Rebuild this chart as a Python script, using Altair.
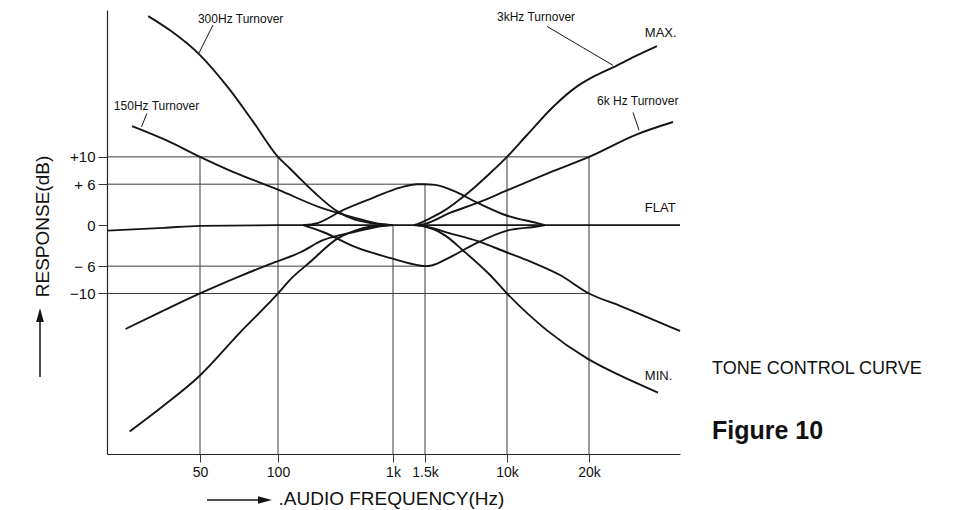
import altair as alt
import pandas as pd

FONT = "Liberation Sans"
INK = "#151515"
GRID = "#3a3a3a"

# ---------------- axis definitions (schematic frequency axis) ----------------
x_breaks = [20, 50, 100, 1000, 1500, 10000, 20000, 40000]      # Hz
x_break_pos = [0, 93, 171, 286, 318, 400, 482, 573]            # scale range
tick_values = [50, 100, 1000, 1500, 10000, 20000]
tick_labels = ["50", "100", "1k", "1.5k", "10k", "20k"]
y_tick_values = [10, 6, 0, -6, -10]
y_tick_labels = ["+10", "+ 6", "0", "\u2212 6", "\u221210"]
y_domain = [-33.5, 31.5]

# ---------------- curve data (Hz, dB) ----------------
bass300_boost_f = [30, 38, 50, 64, 80, 100, 127, 158, 210, 326, 467, 650, 1000]
bass300_boost_db = [30.6, 28.3, 24.9, 20.2, 15.2, 10.0, 8.3, 6.7, 4.7, 2.05, 0.8, 0.3, 0.0]

bass150_boost_f = [25.6, 36, 50, 67, 100, 232, 486, 700, 1000]
bass150_boost_db = [14.5, 12.4, 10.0, 7.8, 5.2, 2.6, 1.0, 0.3, 0.0]

bass150_cut_f = [24, 34, 50, 71, 93, 155, 246, 486, 700, 1000]
bass150_cut_db = [-15.2, -12.7, -10.0, -7.5, -5.7, -4.0, -2.2, -0.9, -0.3, 0.0]

bass300_cut_f = [25, 35, 50, 71, 100, 127, 190, 326, 467, 650, 1000]
bass300_cut_db = [-30.2, -26.4, -22.0, -15.8, -10.0, -8.0, -5.4, -2.0, -0.8, -0.2, 0.0]

mid_boost_f = [165, 220, 367, 670, 1093, 1355, 1500, 1900, 3144, 4995, 9118, 12890, 13790]
mid_boost_db = [0.0, 0.3, 2.2, 4.0, 5.5, 6.0, 6.0, 5.9, 4.8, 3.3, 1.6, 0.3, 0.0]

mid_cut_f = [165, 246, 486, 942, 1400, 1500, 1750, 2670, 4995, 10000, 12890, 13790]
mid_cut_db = [0.0, -1.0, -3.3, -4.8, -5.9, -6.0, -5.9, -4.7, -2.6, -0.8, -0.2, 0.0]

treble3k_boost_f = [1300, 1408, 1684, 2383, 3372, 4770, 6750, 10000, 11840, 14750,
                    17770, 20610, 24010, 28380, 33570]
treble3k_boost_db = [0.0, 0.3, 1.0, 2.2, 3.8, 5.6, 7.6, 10.0, 13.2, 17.3,
                     20.1, 21.7, 23.1, 24.7, 26.2]

treble6k_boost_f = [1300, 1500, 2670, 5357, 10000, 14750, 20000, 28820, 37920]
treble6k_boost_db = [0.0, 0.2, 1.8, 3.4, 5.1, 7.9, 10.0, 13.3, 15.1]

treble6k_cut_f = [1300, 1500, 2670, 4995, 10000, 12140, 15650, 20000, 25320, 40000]
treble6k_cut_db = [0.0, -0.2, -1.2, -2.3, -4.0, -5.3, -7.3, -10.0, -11.8, -15.5]

treble3k_cut_f = [1300, 1500, 2383, 3613, 6750, 10000, 14020, 19670, 25320, 33830]
treble3k_cut_db = [0.0, -0.2, -1.5, -3.7, -7.3, -10.0, -15.4, -19.5, -22.0, -24.5]

flat_f = [20, 35, 50, 100, 40000]
flat_db = [-0.8, -0.4, -0.1, 0.0, 0.0]

# ---------------- reference (grid) lines ----------------
hgrid_db = [10, 6, -6, -10]
hgrid_f1 = [20, 20, 20, 20]
hgrid_f2 = [20000, 1500, 1500, 20000]

vgrid_f = [50, 100, 1000, 1500, 10000, 20000]
vgrid_db_top = [10, 10, 0, 6, 10, 10]

# ---------------- annotations ----------------
small_text = ["300Hz Turnover", "150Hz Turnover", "3kHz Turnover", "6k Hz Turnover"]
small_f = [49, 21.4, 7940, 21260]
small_db = [30.2, 17.4, 30.5, 18.2]

curve_text = ["MAX.", "FLAT", "MIN."]
curve_text_f = [30600, 30600, 30600]
curve_text_db = [28.1, 2.5, -22.1]

ptr_f1 = [56.1, 29.6, 14020, 27970]
ptr_db1 = [29.3, 16.35, 29.1, 16.5]
ptr_f2 = [49.5, 28.1, 24010, 29270]
ptr_db2 = [25.2, 14.4, 23.4, 13.9]


def label_expr(values, labels):
    expr = "''"
    for v, l in reversed(list(zip(values, labels))):
        expr = f"datum.value == {v} ? '{l}' : ({expr})"
    return expr


xs = alt.Scale(type="log", domain=x_breaks, range=x_break_pos, nice=False)
ys = alt.Scale(domain=y_domain, nice=False, zero=False)

curves = {
    "300Hz boost": (bass300_boost_f, bass300_boost_db),
    "150Hz boost": (bass150_boost_f, bass150_boost_db),
    "150Hz cut": (bass150_cut_f, bass150_cut_db),
    "300Hz cut": (bass300_cut_f, bass300_cut_db),
    "mid boost": (mid_boost_f, mid_boost_db),
    "mid cut": (mid_cut_f, mid_cut_db),
    "3kHz boost": (treble3k_boost_f, treble3k_boost_db),
    "6kHz boost": (treble6k_boost_f, treble6k_boost_db),
    "6kHz cut": (treble6k_cut_f, treble6k_cut_db),
    "3kHz cut": (treble3k_cut_f, treble3k_cut_db),
    "flat": (flat_f, flat_db),
}
rows = []
for name, (fs, dbs) in curves.items():
    for i, (f, d) in enumerate(zip(fs, dbs)):
        rows.append({"curve": name, "f": f, "db": d, "i": i})
curve_df = pd.DataFrame(rows)

hgrid_df = pd.DataFrame({"db": hgrid_db, "f1": hgrid_f1, "f2": hgrid_f2})
vgrid_df = pd.DataFrame({"f": vgrid_f, "db": vgrid_db_top,
                         "bottom": [y_domain[0]] * len(vgrid_f)})
small_df = pd.DataFrame({"t": small_text, "f": small_f, "db": small_db})
ctext_df = pd.DataFrame({"t": curve_text, "f": curve_text_f, "db": curve_text_db})
ptr_df = pd.DataFrame({"f": ptr_f1, "db": ptr_db1, "f2": ptr_f2, "db2": ptr_db2})

x_axis = alt.Axis(
    values=tick_values, labelExpr=label_expr(tick_values, tick_labels),
    grid=False, domainColor="#222", domainWidth=1.2, tickColor=GRID, tickWidth=1,
    tickSize=8, labelFont=FONT, labelFontSize=14, labelColor="#111", labelPadding=3,
    labelFlush=False, labelOverlap=False,
    title=".AUDIO FREQUENCY(Hz)", titleFont=FONT, titleFontSize=19,
    titleFontWeight="normal", titleColor="#111", titleX=171, titleY=50,
    titleAlign="left", titleBaseline="alphabetic",
)
y_axis = alt.Axis(
    values=y_tick_values, labelExpr=label_expr(y_tick_values, y_tick_labels),
    grid=False, domainColor="#222", domainWidth=1.2, tickColor=GRID, tickWidth=1,
    tickSize=9, labelFont=FONT, labelFontSize=15, labelColor="#111", labelPadding=3,
    labelFlush=False, labelOverlap=False,
    title="RESPONSE(dB)", titleFont=FONT, titleFontSize=19, titleFontWeight="normal",
    titleColor="#111", titleX=-65, titleY=216, titleAngle=270,
    titleAlign="center", titleBaseline="middle",
)

X = alt.X("f:Q", scale=xs, axis=x_axis)
Y = alt.Y("db:Q", scale=ys, axis=y_axis)

grid_h = alt.Chart(hgrid_df).mark_rule(color=GRID, strokeWidth=1).encode(
    x=alt.X("f1:Q", scale=xs, axis=x_axis), x2="f2:Q", y=Y,
)
grid_v = alt.Chart(vgrid_df).mark_rule(color=GRID, strokeWidth=1).encode(
    x=X, y=Y, y2="bottom:Q",
)
lines = alt.Chart(curve_df).mark_line(color=INK, strokeWidth=1.9, interpolate="monotone").encode(
    x=X, y=Y, detail="curve:N", order="i:Q",
)
pointers = alt.Chart(ptr_df).mark_rule(color=INK, strokeWidth=1).encode(
    x=X, x2="f2:Q", y=Y, y2="db2:Q",
)
small_labels = alt.Chart(small_df).mark_text(
    font=FONT, fontSize=12, color="#111", align="left", baseline="middle"
).encode(x=X, y=Y, text="t:N")
curve_labels = alt.Chart(ctext_df).mark_text(
    font=FONT, fontSize=13, color="#111", align="left", baseline="middle"
).encode(x=X, y=Y, text="t:N")

side_df = pd.DataFrame({"t": ["TONE CONTROL CURVE"]})
side_text = alt.Chart(side_df).mark_text(
    font=FONT, fontSize=18, color="#111", align="left", baseline="middle"
).encode(x=alt.value(605), y=alt.value(359), text="t:N")

fig_df = pd.DataFrame({"t": ["Figure 10"]})
fig_text = alt.Chart(fig_df).mark_text(
    font=FONT, fontSize=25, fontWeight="bold", color="#111", align="left", baseline="middle"
).encode(x=alt.value(605), y=alt.value(421), text="t:N")

# arrows beside the axis titles
arrow_df = pd.DataFrame({"k": [0]})
y_shaft = alt.Chart(arrow_df).mark_rule(color=INK, strokeWidth=1.5).encode(
    x=alt.value(-67), y=alt.value(367), y2=alt.value(312))
y_head = alt.Chart(arrow_df).mark_point(
    shape="M0,-1L0.55,1L-0.55,1Z", filled=True, color=INK, size=196, opacity=1
).encode(x=alt.value(-67), y=alt.value(305))
x_shaft = alt.Chart(arrow_df).mark_rule(color=INK, strokeWidth=1.5).encode(
    x=alt.value(100), x2=alt.value(153), y=alt.value(490))
x_head = alt.Chart(arrow_df).mark_point(
    shape="M1,0L-1,-0.55L-1,0.55Z", filled=True, color=INK, size=196, opacity=1
).encode(x=alt.value(158), y=alt.value(490))

chart = alt.layer(
    grid_h, grid_v, lines, pointers, small_labels, curve_labels,
    side_text, fig_text, y_shaft, y_head, x_shaft, x_head,
).properties(
    width=573, height=444,
    padding={"left": 99, "top": 2, "right": 250, "bottom": 56},
    autosize=alt.AutoSizeParams(type="none"),
    background="white",
).configure_view(strokeWidth=0)

chart.save("out.html", embed_options={"renderer": "svg", "actions": False})
